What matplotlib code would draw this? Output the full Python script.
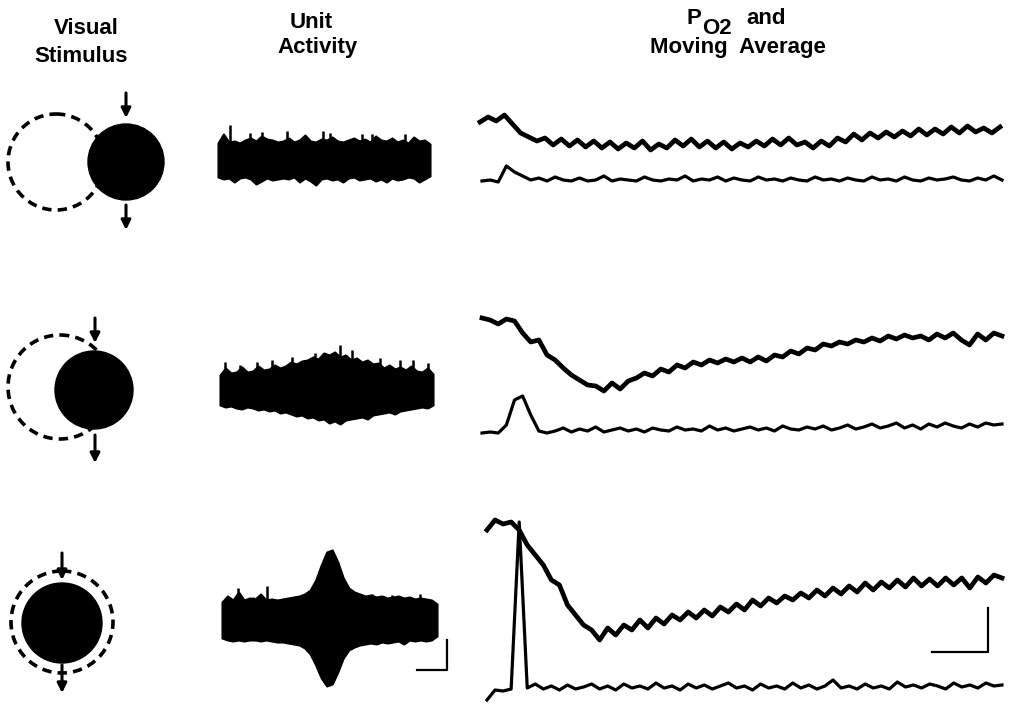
import numpy as np
import matplotlib
matplotlib.use("Agg")
import matplotlib.pyplot as plt
from matplotlib.patches import Circle

# ---- data (pixel units of the original figure, y grows downward) ----
# unit activity envelopes: half widths above / below the trace centre
unit_up_1 = [17, 26, 18, 19, 17, 20, 22, 19, 24, 21, 20, 18, 19, 22, 18, 20, 25, 19, 18, 21,
             20, 23, 19, 18, 20, 22, 19, 21, 18, 24, 20, 19, 22, 18, 20, 17, 23, 19, 20, 16]
unit_dn_1 = [17, 19, 18, 22, 18, 17, 19, 24, 21, 18, 20, 19, 18, 19, 17, 22, 18, 21, 25, 19,
             18, 20, 19, 22, 18, 17, 20, 19, 18, 21, 19, 22, 18, 20, 19, 17, 18, 22, 19, 16]
unit_up_2 = [15, 22, 17, 18, 23, 18, 19, 24, 20, 21, 25, 22, 24, 28, 26, 29, 30, 33, 31, 37,
             35, 38, 33, 35, 30, 32, 28, 30, 26, 27, 22, 25, 21, 23, 20, 24, 19, 18, 22, 16]
unit_dn_2 = [15, 17, 16, 18, 19, 17, 18, 20, 19, 21, 20, 23, 22, 24, 26, 25, 28, 27, 30, 29,
             33, 31, 34, 30, 29, 28, 27, 29, 25, 24, 23, 22, 24, 21, 20, 19, 18, 17, 18, 15]
unit_up_3 = [18, 24, 20, 28, 20, 22, 21, 26, 20, 21, 20, 21, 22, 23, 24, 26, 30, 40, 55, 68,
             70, 58, 42, 32, 28, 26, 24, 25, 23, 24, 22, 23, 24, 22, 23, 21, 22, 21, 20, 16]
unit_dn_3 = [18, 20, 21, 20, 21, 20, 20, 21, 20, 21, 22, 22, 23, 24, 25, 28, 34, 45, 58, 66,
             64, 52, 38, 30, 27, 25, 24, 23, 24, 22, 23, 22, 21, 24, 20, 21, 20, 21, 20, 16]

# isolated unit spikes (x position, height above centre)
spike_x_1 = [230, 250, 262, 287, 323, 330, 362, 372, 405]
spike_h_1 = [35, 27, 28, 29, 29, 27, 26, 26, 26]
spike_x_2 = [225, 240, 257, 272, 292, 315, 340, 352, 380, 400, 413, 428]
spike_h_2 = [28, 25, 28, 30, 33, 37, 45, 40, 32, 30, 30, 27]
spike_x_3 = [238, 253, 267, 372, 392, 420]
spike_h_3 = [32, 23, 34, 26, 25, 26]

# PO2 traces
po2_1 = [122, 117, 121, 115, 124, 133, 137, 141, 138, 145, 139, 146, 140, 147, 141, 148, 142,
         149, 143, 148, 141, 150, 144, 148, 140, 146, 139, 147, 141, 148, 142, 149, 143, 147,
         141, 146, 139, 145, 138, 145, 142, 148, 141, 146, 138, 142, 134, 140, 133, 138, 132,
         137, 131, 136, 129, 135, 129, 134, 127, 133, 126, 132, 128, 133, 127]
po2_2 = [318, 320, 324, 319, 321, 333, 342, 340, 355, 360, 368, 375, 380, 385, 386, 391, 383,
         389, 381, 378, 373, 376, 369, 372, 365, 368, 362, 365, 360, 363, 359, 362, 358, 362,
         357, 361, 355, 357, 351, 354, 348, 350, 344, 346, 342, 344, 340, 342, 338, 341, 336,
         339, 335, 338, 336, 340, 334, 338, 333, 340, 345, 334, 340, 333, 336]
po2_3 = [530, 520, 524, 522, 530, 545, 555, 565, 580, 585, 605, 615, 625, 630, 640, 628, 635,
         625, 630, 620, 628, 618, 624, 615, 620, 612, 618, 610, 616, 607, 612, 604, 610, 600,
         606, 598, 603, 596, 600, 593, 598, 590, 596, 588, 594, 586, 592, 583, 590, 582, 588,
         580, 587, 578, 586, 579, 586, 578, 585, 578, 588, 577, 583, 575, 578]

# moving averages
avg_1 = [181, 180, 182, 166, 172, 176, 180, 178, 181, 177, 180, 181, 178, 181, 180, 176, 181,
         179, 180, 181, 177, 180, 181, 179, 180, 176, 181, 179, 180, 177, 181, 178, 180, 181,
         177, 180, 179, 181, 178, 180, 181, 177, 180, 179, 181, 178, 180, 181, 177, 180, 179,
         181, 177, 180, 181, 178, 180, 179, 177, 180, 181, 178, 180, 176, 180]
avg_2 = [433, 432, 433, 425, 400, 396, 415, 431, 433, 431, 428, 432, 429, 431, 427, 432, 430,
         428, 431, 429, 432, 428, 430, 431, 427, 430, 429, 431, 426, 430, 428, 431, 429, 427,
         430, 428, 431, 426, 429, 430, 427, 429, 426, 430, 428, 425, 429, 427, 424, 428, 426,
         423, 428, 425, 429, 424, 427, 423, 426, 428, 424, 427, 423, 425, 424]
avg_3 = [700, 690, 691, 689, 522, 688, 684, 689, 686, 690, 685, 689, 687, 684, 689, 686, 690,
         684, 688, 686, 689, 683, 688, 686, 690, 684, 688, 685, 689, 686, 683, 688, 686, 690,
         684, 688, 686, 689, 683, 688, 685, 689, 686, 680, 688, 686, 689, 684, 688, 686, 689,
         682, 687, 685, 688, 684, 686, 689, 683, 687, 685, 688, 683, 686, 685]

# ---- layout ----
fig = plt.figure(figsize=(10.24, 7.14), dpi=100)
ax = fig.add_axes([0, 0, 1, 1])
ax.set_xlim(0, 1024)
ax.set_ylim(714, 0)
ax.axis("off")

font = dict(family=["Liberation Sans", "DejaVu Sans"], fontweight="bold", fontsize=16,
            ha="center", va="center", color="black")
ax.text(86, 28, "Visual", **font)
ax.text(81, 57, "Stimulus", **font)
ax.text(311, 22, "Unit", **font)
ax.text(318, 48, "Activity", **font)
ax.text(694, 19, "P", **font)
ax.text(717, 29, "O2", **font)
ax.text(766, 19, "and", **font)
ax.text(738, 48, "Moving  Average", **font)

# stimulus diagrams: (dashed centre, dashed r, filled centre, filled r, arrow x, arrows)
stimuli = [
    ((56, 162), 48, (126, 162), 38, 126, (93, 118), (205, 230)),
    ((60, 387), 52, (94, 390), 39, 95, (318, 343), (435, 463)),
    ((62, 622), 51, (62, 623), 40, 62, (553, 580), (665, 693)),
]
for dc, dr, fc, fr, axx, top, bot in stimuli:
    ax.add_patch(Circle(dc, dr, fill=False, ec="black", lw=2.6, ls=(0, (2.6, 1.7))))
    ax.add_patch(Circle(fc, fr, fc="black", ec="black", lw=1, zorder=3))
    for y0, y1 in (top, bot):
        ax.annotate("", xy=(axx, y1), xytext=(axx, y0),
                    arrowprops=dict(arrowstyle="-|>", lw=2.2, color="black",
                                    mutation_scale=14, shrinkA=0, shrinkB=0))

# unit activity bands
units = [
    (218, 430, 160, unit_up_1, unit_dn_1, spike_x_1, spike_h_1),
    (220, 433, 390, unit_up_2, unit_dn_2, spike_x_2, spike_h_2),
    (222, 437, 620, unit_up_3, unit_dn_3, spike_x_3, spike_h_3),
]
for x0, x1, yc, up, dn, sx, sh in units:
    x = np.linspace(x0, x1, len(up))
    ax.fill_between(x, yc - np.array(up), yc + np.array(dn), color="black", lw=1.5,
                    edgecolor="black")
    ax.vlines(sx, yc - np.array(sh), yc, color="black", lw=1.8)

# scale bar under unit activity
ax.plot([417, 447, 447], [670, 670, 640], color="black", lw=1.6)

# PO2 and moving averages
traces = [
    (480, 1000, po2_1, 482, 1002, avg_1),
    (482, 1002, po2_2, 482, 1002, avg_2),
    (487, 1002, po2_3, 487, 1002, avg_3),
]
for x0, x1, p, a0, a1, avg in traces:
    ax.plot(np.linspace(x0, x1, len(p)), p, color="black", lw=3.4, solid_joinstyle="round")
    ax.plot(np.linspace(a0, a1, len(avg)), avg, color="black", lw=2.3, solid_joinstyle="round")

# scale bar for PO2
ax.plot([932, 988, 988], [652, 652, 608], color="black", lw=1.6)

fig.savefig("out.png", dpi=100, facecolor="white")
